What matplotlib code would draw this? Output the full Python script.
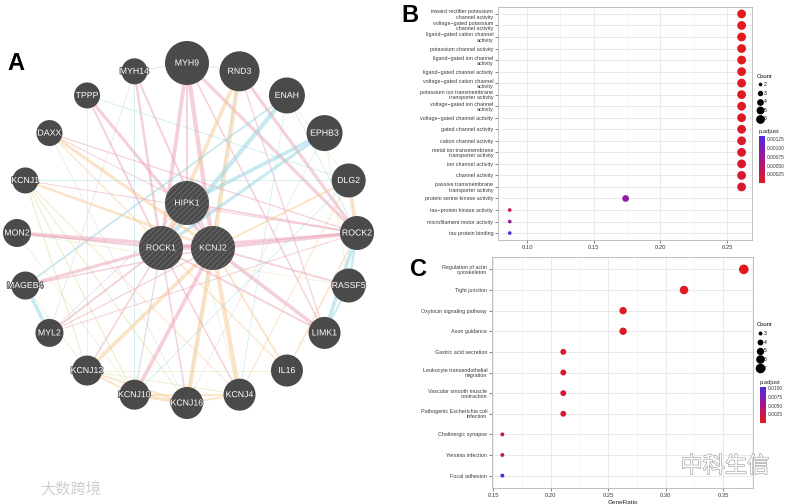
import numpy as np
import matplotlib
matplotlib.use("Agg")
import matplotlib.pyplot as plt
import matplotlib.patheffects as pe
from matplotlib.patches import Circle
from matplotlib.colors import LinearSegmentedColormap, Normalize
from matplotlib.cm import ScalarMappable
from matplotlib.lines import Line2D

plt.rcParams['font.family'] = ['Liberation Sans', 'Noto Sans CJK SC', 'DejaVu Sans']
plt.rcParams['hatch.linewidth'] = 0.6

# ---- Panel A: gene network ----
ring_genes = ["MYH9", "RND3", "ENAH", "EPHB3", "DLG2", "ROCK2", "RASSF5", "LIMK1",
              "IL16", "KCNJ4", "KCNJ16", "KCNJ10", "KCNJ12", "MYL2", "MAGEB4",
              "MON2", "KCNJ1", "DAXX", "TPPP", "MYH14"]
ring_size = [22, 20, 18, 18, 17, 17, 17, 16, 16, 16, 16, 15, 15, 14, 14, 14, 13, 13, 13, 13]
query_genes = ["HIPK1", "ROCK1", "KCNJ2"]
query_size = [22, 22, 22]

# (gene a, gene b, network type, weight)
edges = [
    ("MYH9", "ROCK1", "p", 3.0), ("MYH9", "KCNJ2", "p", 3.5), ("MYH9", "HIPK1", "p", 1.5),
    ("MYH9", "ROCK2", "p", 2.5), ("MYH9", "LIMK1", "p", 1.2), ("MYH9", "MYH14", "s", 0.8),
    ("MYH9", "RND3", "s", 0.6), ("MYH14", "ROCK1", "p", 2.0), ("MYH14", "KCNJ2", "p", 1.5),
    ("MYH14", "KCNJ10", "b", 0.6), ("MYH14", "MYL2", "s", 0.5), ("RND3", "ROCK1", "o", 3.0),
    ("RND3", "KCNJ2", "o", 3.5), ("RND3", "ROCK2", "p", 2.5), ("RND3", "LIMK1", "p", 1.0),
    ("RND3", "KCNJ16", "b", 0.5), ("TPPP", "KCNJ2", "p", 2.5), ("TPPP", "ROCK1", "p", 1.5),
    ("TPPP", "DLG2", "b", 0.6), ("TPPP", "KCNJ12", "s", 0.5), ("ENAH", "ROCK1", "b", 3.5),
    ("ENAH", "MAGEB4", "b", 1.5), ("ENAH", "DLG2", "g", 0.6), ("ENAH", "ROCK2", "b", 0.6),
    ("ENAH", "KCNJ4", "b", 0.5), ("EPHB3", "ROCK1", "b", 2.5), ("EPHB3", "HIPK1", "b", 3.0),
    ("EPHB3", "RASSF5", "g", 0.6), ("EPHB3", "KCNJ16", "s", 0.5), ("DAXX", "KCNJ2", "o", 2.5),
    ("DAXX", "ROCK2", "p", 1.0), ("DAXX", "IL16", "o", 1.0), ("DAXX", "KCNJ16", "s", 0.5),
    ("KCNJ1", "KCNJ2", "o", 2.0), ("KCNJ1", "KCNJ16", "g", 1.0), ("KCNJ1", "KCNJ10", "g", 1.0),
    ("KCNJ1", "KCNJ4", "o", 0.8), ("KCNJ1", "KCNJ12", "g", 1.0), ("KCNJ1", "ROCK2", "p", 0.8),
    ("MON2", "KCNJ2", "p", 3.0), ("MON2", "ROCK1", "p", 1.5), ("MON2", "KCNJ10", "g", 0.6),
    ("MAGEB4", "ROCK1", "p", 2.5), ("MAGEB4", "MYL2", "b", 3.0), ("MAGEB4", "KCNJ2", "p", 1.2),
    ("MAGEB4", "KCNJ12", "g", 0.6), ("MYL2", "ROCK1", "p", 1.5), ("MYL2", "ROCK2", "p", 0.8),
    ("MYL2", "KCNJ2", "p", 1.0), ("MYL2", "HIPK1", "v", 0.6), ("KCNJ12", "KCNJ2", "o", 3.0),
    ("KCNJ12", "KCNJ4", "g", 0.8), ("KCNJ12", "KCNJ16", "o", 1.5), ("KCNJ12", "KCNJ10", "o", 1.5),
    ("KCNJ12", "ROCK1", "p", 1.2), ("KCNJ10", "KCNJ2", "p", 3.0), ("KCNJ10", "KCNJ16", "o", 3.0),
    ("KCNJ10", "KCNJ4", "o", 1.5), ("KCNJ10", "ROCK1", "v", 1.0), ("KCNJ16", "KCNJ2", "o", 3.5),
    ("KCNJ16", "ROCK1", "p", 1.2), ("KCNJ16", "KCNJ4", "o", 1.5), ("KCNJ4", "KCNJ2", "o", 3.5),
    ("KCNJ4", "ROCK1", "p", 1.2), ("KCNJ4", "HIPK1", "g", 0.6), ("IL16", "KCNJ2", "o", 1.5),
    ("IL16", "ROCK2", "o", 1.2), ("IL16", "KCNJ12", "g", 0.6), ("LIMK1", "KCNJ2", "p", 3.0),
    ("LIMK1", "ROCK1", "p", 1.5), ("LIMK1", "ROCK2", "b", 3.0), ("LIMK1", "RASSF5", "b", 1.5),
    ("RASSF5", "KCNJ2", "p", 1.5), ("RASSF5", "ROCK2", "b", 2.0), ("RASSF5", "MON2", "g", 0.6),
    ("ROCK2", "KCNJ2", "p", 3.0), ("ROCK2", "ROCK1", "p", 2.0), ("ROCK2", "HIPK1", "p", 1.5),
    ("ROCK2", "DLG2", "o", 3.0), ("DLG2", "KCNJ2", "o", 1.5), ("DLG2", "KCNJ4", "o", 0.8),
    ("DLG2", "KCNJ10", "b", 0.6), ("DLG2", "KCNJ1", "b", 0.6), ("HIPK1", "ROCK1", "p", 2.0),
    ("HIPK1", "KCNJ2", "p", 2.0), ("HIPK1", "DAXX", "p", 0.8), ("ROCK1", "KCNJ2", "p", 3.0),
]
edge_colors = {"p": "#eba2b6", "o": "#f6c98f", "b": "#93d5e2", "g": "#d7e2a4",
               "v": "#c9b2df", "s": "#c8c8c8"}

# ---- Panel B: GO enrichment ----
go_terms = [
    "inward rectifier potassium\nchannel activity",
    "voltage\u2212gated potassium\nchannel activity",
    "ligand\u2212gated cation channel\nactivity",
    "potassium channel activity",
    "ligand\u2212gated ion channel\nactivity",
    "ligand\u2212gated channel activity",
    "voltage\u2212gated cation channel\nactivity",
    "potassium ion transmembrane\ntransporter activity",
    "voltage\u2212gated ion channel\nactivity",
    "voltage\u2212gated channel activity",
    "gated channel activity",
    "cation channel activity",
    "metal ion transmembrane\ntransporter activity",
    "ion channel activity",
    "channel activity",
    "passive transmembrane\ntransporter activity",
    "protein serine kinase activity",
    "tau\u2212protein kinase activity",
    "microfilament motor activity",
    "tau protein binding",
]
go_ratio = [0.261, 0.261, 0.261, 0.261, 0.261, 0.261, 0.261, 0.261, 0.261, 0.261,
            0.261, 0.261, 0.261, 0.261, 0.261, 0.261, 0.174, 0.087, 0.087, 0.087]
go_count = [6, 6, 6, 6, 6, 6, 6, 6, 6, 6, 6, 6, 6, 6, 6, 6, 4, 2, 2, 2]
go_padj = [1.2e-5, 2.0e-5, 3.0e-5, 3.5e-5, 4.0e-5, 5.0e-5, 6.0e-5, 6.5e-5, 7.0e-5, 8.0e-5,
           9.0e-5, 1.0e-4, 1.1e-4, 1.2e-4, 1.3e-4, 1.4e-4, 8.5e-4, 3.5e-4, 8.0e-4, 1.3e-3]
go_xticks = [0.10, 0.15, 0.20, 0.25]
go_cticks = [0.00025, 0.00050, 0.00075, 0.00100, 0.00125]

# ---- Panel C: KEGG enrichment ----
kegg_terms = [
    "Regulation of actin\ncytoskeleton",
    "Tight junction",
    "Oxytocin signaling pathway",
    "Axon guidance",
    "Gastric acid secretion",
    "Leukocyte transendothelial\nmigration",
    "Vascular smooth muscle\ncontraction",
    "Pathogenic Escherichia coli\ninfection",
    "Cholinergic synapse",
    "Yersinia infection",
    "Focal adhesion",
]
kegg_ratio = [0.368, 0.316, 0.263, 0.263, 0.211, 0.211, 0.211, 0.211, 0.158, 0.158, 0.158]
kegg_count = [7, 6, 5, 5, 4, 4, 4, 4, 3, 3, 3]
kegg_padj = [2.0e-4, 3.0e-4, 5.0e-4, 6.0e-4, 8.0e-4, 9.0e-4, 1.0e-3, 1.1e-3, 3.4e-3, 3.5e-3, 1.03e-2]
kegg_xticks = [0.15, 0.20, 0.25, 0.30, 0.35]
kegg_cticks = [0.0025, 0.0050, 0.0075, 0.0100]

cmap = LinearSegmentedColormap.from_list("padj", ["#e41a1c", "#a5168a", "#4b2be0"])

W, H = 786, 504
fig = plt.figure(figsize=(W / 100, H / 100), dpi=100)

# network drawing, data units = pixels
axA = fig.add_axes([0, 0, 400 / W, 1])
axA.set_xlim(0, 400)
axA.set_ylim(H, 0)
axA.axis("off")

cx, cy, R = 187, 233, 170
pos = {}
for i, g in enumerate(ring_genes):
    a = np.deg2rad(90 - 18 * i)
    pos[g] = (cx + R * np.cos(a), cy - R * np.sin(a))
for i, g in enumerate(query_genes):
    a = np.deg2rad(90 + 120 * i)
    pos[g] = (cx + 30 * np.cos(a), cy - 30 * np.sin(a))
radius = dict(zip(ring_genes + query_genes, ring_size + query_size))

for a, b, kind, w in edges:
    (x1, y1), (x2, y2) = pos[a], pos[b]
    axA.plot([x1, x2], [y1, y2], color=edge_colors[kind], lw=w * 0.9,
             alpha=0.5, solid_capstyle="butt", zorder=1)

for g in ring_genes + query_genes:
    x, y = pos[g]
    axA.add_patch(Circle((x, y), radius[g], facecolor="#4a4a4a", edgecolor="none", zorder=3))
    if g in query_genes:
        axA.add_patch(Circle((x, y), radius[g], facecolor="none", edgecolor="#6e6e6e",
                             lw=0, hatch="//////", zorder=4))
    axA.text(x, y, g, color="white", fontsize=6.3, ha="center", va="center", zorder=5,
             path_effects=[pe.withStroke(linewidth=1.2, foreground="#4a4a4a")])

axA.text(7, 63, "A", fontsize=17, fontweight="bold", va="center", ha="left")
axA.text(40, 489, "大数跨境", fontsize=11, color="#cfcfcf", va="center", ha="left",
         family=["Noto Sans CJK SC", "DejaVu Sans"])


def size_of(c, cmin, cmax, smin, smax):
    return smin + (c - cmin) * (smax - smin) / (cmax - cmin)


def dot_panel(rect, terms, ratio, count, padj, xticks, xlim, vmax, cticks, cfmt,
              smin, smax, leg_y, cbar_rect, label, label_xy, xlabel):
    ax = fig.add_axes(rect)
    n = len(terms)
    ypos = np.arange(n)
    cmin, cmax = min(count), max(count)
    norm = Normalize(vmin=0, vmax=vmax)
    sizes = [size_of(c, cmin, cmax, smin, smax) for c in count]
    ax.scatter(ratio, ypos, s=sizes, c=padj, cmap=cmap, norm=norm, linewidths=0, zorder=3)
    ax.set_ylim(n - 0.4, -0.6)
    ax.set_xlim(*xlim)
    ax.set_yticks(ypos)
    ax.set_yticklabels(terms, fontsize=3.9, color="#3a3a3a", linespacing=1.05)
    ax.set_xticks(xticks)
    ax.set_xticklabels([f"{t:.2f}" for t in xticks], fontsize=4.2, color="#3a3a3a")
    minor = [(xticks[i] + xticks[i + 1]) / 2 for i in range(len(xticks) - 1)]
    minor = [xticks[0] - 0.025] + minor + [xticks[-1] + 0.025]
    ax.set_xticks([m for m in minor if xlim[0] < m < xlim[1]], minor=True)
    ax.grid(True, which="major", color="#e6e6e6", lw=0.6)
    ax.grid(True, which="minor", axis="x", color="#f0f0f0", lw=0.4)
    ax.set_axisbelow(True)
    ax.tick_params(which="major", length=2, width=0.5, color="#555555", pad=1.5)
    ax.tick_params(which="minor", length=0)
    for s in ax.spines.values():
        s.set_color("#b5b5b5")
        s.set_linewidth(0.6)
    if xlabel:
        ax.set_xlabel(xlabel, fontsize=4.6, color="#222222", labelpad=1.5)
    fig.text(label_xy[0] / W, 1 - label_xy[1] / H, label, fontsize=17,
             fontweight="bold", va="center", ha="left")

    levels = list(range(cmin, cmax + 1))
    handles = [Line2D([], [], ls="", marker="o", color="black", mec="none",
                      markersize=np.sqrt(size_of(c, cmin, cmax, smin, smax)))
               for c in levels]
    fig.legend(handles, [str(c) for c in levels], title="Count", loc="upper left",
               bbox_to_anchor=(754 / W, leg_y), frameon=False, fontsize=3.6,
               title_fontsize=4.2, labelspacing=0.72, handletextpad=0.3,
               borderpad=0, handlelength=1.2, alignment="left")

    cax = fig.add_axes(cbar_rect)
    cb = fig.colorbar(ScalarMappable(norm=norm, cmap=cmap), cax=cax, ticks=cticks)
    cb.outline.set_visible(False)
    cb.ax.set_yticklabels([cfmt.format(t) for t in cticks], fontsize=3.5, color="#3a3a3a")
    cb.ax.tick_params(length=0, pad=1.5)
    cax.set_title("p.adjust", fontsize=4.2, loc="left", pad=2, color="#222222")
    return ax


dot_panel([498 / W, 1 - 240 / H, 254 / W, 233 / H], go_terms, go_ratio, go_count, go_padj,
          go_xticks, (0.0782, 0.2688), 0.00135, go_cticks, "{:.5f}",
          7, 40, 1 - 71 / H, [759 / W, 1 - 183 / H, 6 / W, 47 / H], "B", (401, 15), None)

dot_panel([492 / W, 1 - 488 / H, 261 / W, 231 / H], kegg_terms, kegg_ratio, kegg_count,
          kegg_padj, kegg_xticks, (0.149, 0.376), 0.0104, kegg_cticks, "{:.4f}",
          8, 48, 1 - 320 / H, [760 / W, 1 - 423 / H, 6 / W, 36 / H], "C", (410, 269),
          "GeneRatio")

fig.text(725 / W, 1 - 466 / H, "中科生信", fontsize=16, color="white", ha="center",
         va="center", family=["Noto Sans CJK SC", "DejaVu Sans"],
         path_effects=[pe.withStroke(linewidth=0.9, foreground="#a0a0a0")])

fig.savefig("out.png", dpi=100)
